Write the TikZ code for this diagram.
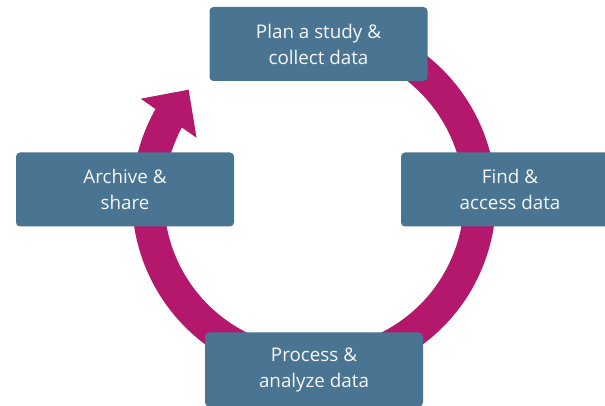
\documentclass[tikz,border=0pt]{standalone}
\usepackage{fontspec}
\setmainfont{Open Sans}
\usepackage{tikz}
\usetikzlibrary{arrows.meta,bending,calc}
\definecolor{stageblue}{HTML}{4A7592}
\definecolor{loopmag}{HTML}{B3186D}

\begin{document}
\begin{tikzpicture}[x=1pt,y=1pt,
    stage/.style={fill=stageblue,rounded corners=4pt,minimum width=218pt,minimum height=74pt,
      inner sep=0pt,align=center,text=white!94!gray,font=\fontsize{18.8}{26}\selectfont},
    loop/.style={loopmag,line width=32pt}]
    \useasboundingbox (0,0) rectangle (605,406);
    \clip (0,0) rectangle (605,406);
    % ===== Cycle ring =====
    \coordinate (hub) at (314,207.5);
    \draw[loop,-{Triangle[length=35pt,width=66pt]}] ($(hub)+(70:166)$) arc[start angle=70,end angle=-221,radius=166];
    % ===== Stages =====
    \node[stage] (plan) at (318.5,362) {Plan a study \&\\collect data};
    \node[stage] (find) at (510,216.5) {Find \&\\access data};
    \node[stage] (process) at (314,36.5) {Process \&\\analyze data};
    \node[stage] (archive) at (125,216.5) {Archive \&\\share};
\end{tikzpicture}
\end{document}
